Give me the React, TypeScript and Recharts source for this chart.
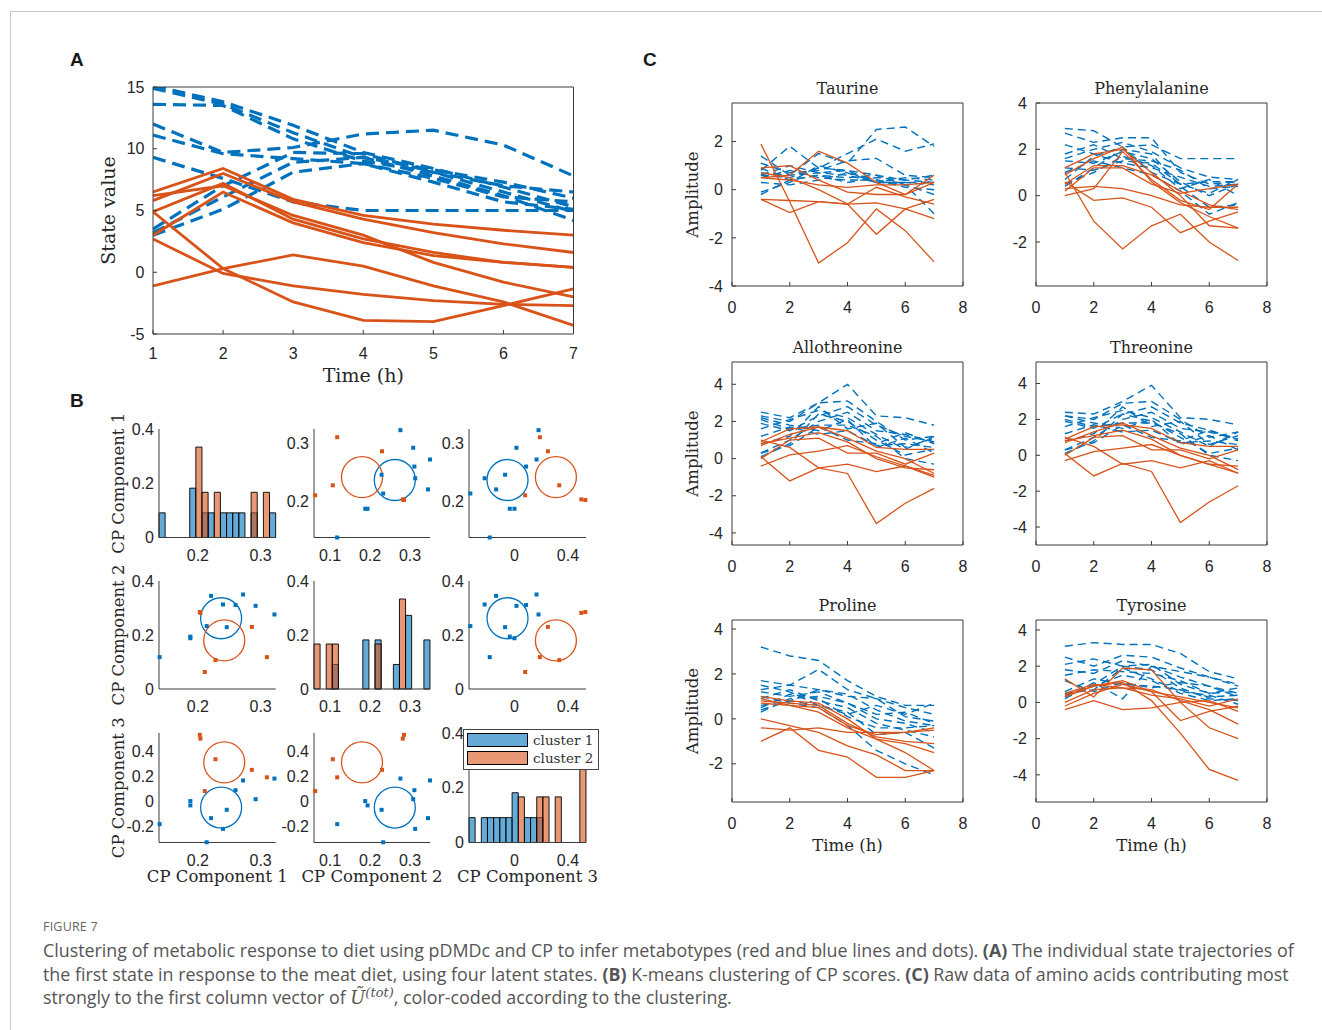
import React from 'react';
import { LineChart, Line, XAxis, YAxis, ScatterChart, Scatter, BarChart, Bar, Legend } from 'recharts';

const BLUE = '#0072BD';
const ORANGE = '#D95319';
const INK = '#262626';
const AXIS = '#3a3a3a';
const SANS = '"Liberation Sans", Arial, sans-serif';
const SERIF = '"DejaVu Serif", "Liberation Serif", serif';

const hours = [1, 2, 3, 4, 5, 6, 7];

// A: first latent state, meat diet
const stateCluster1 = [
  [15.1, 13.8, 11.9, 9.7, 8.4, 6.9, 5.3],
  [14.9, 13.6, 11.3, 9.3, 7.8, 6.2, 4.2],
  [13.6, 13.5, 10.8, 9.0, 8.1, 6.5, 4.9],
  [12.0, 9.7, 10.1, 11.2, 11.5, 10.3, 7.8],
  [11.1, 9.6, 9.2, 8.8, 7.3, 5.7, 5.1],
  [9.3, 7.6, 5.7, 5.0, 5.0, 5.0, 5.0],
  [3.5, 7.0, 9.7, 9.6, 8.1, 7.0, 6.5],
  [3.0, 5.1, 8.1, 8.8, 7.6, 6.1, 5.7],
  [3.2, 6.1, 8.9, 9.3, 8.3, 7.3, 6.0],
];
const stateCluster2 = [
  [6.5, 8.4, 5.9, 4.6, 3.9, 3.4, 3.0],
  [5.8, 8.0, 5.7, 4.3, 3.2, 2.3, 1.6],
  [4.9, 7.2, 4.3, 2.7, 1.6, 0.8, 0.4],
  [3.0, 6.5, 4.0, 2.4, 1.35, 0.8, 0.4],
  [2.7, -0.1, -1.1, -1.8, -2.3, -2.6, -2.7],
  [-1.1, 0.3, 1.4, 0.5, -1.1, -2.4, -4.3],
  [4.9, 0.3, -2.4, -3.9, -4.0, -2.7, -1.35],
  [6.2, 7.0, 4.6, 3.0, 0.8, -0.8, -2.0],
];

// B: CP scores of the subjects, per cluster and component
const cpBlue1 = [0.139, 0.188, 0.188, 0.221, 0.24, 0.26, 0.272, 0.292, 0.322, 0.214, 0.246];
const cpBlue2 = [0.118, 0.194, 0.188, 0.345, 0.313, 0.311, 0.35, 0.308, 0.276, 0.233, 0.229];
const cpBlue3 = [-0.185, -0.035, 0.0, -0.137, -0.223, 0.087, 0.165, 0.015, 0.18, -0.33, -0.07];
const cpOrange1 = [0.203, 0.204, 0.228, 0.286, 0.31, 0.211];
const cpOrange2 = [0.285, 0.282, 0.107, 0.23, 0.118, 0.063];
const cpOrange3 = [0.53, 0.5, 0.335, 0.25, 0.19, 0.08];
const centroidBlue = [0.237, 0.262, -0.052];
const centroidOrange = [0.242, 0.18, 0.31];
// histogram counts, 19 bins over each axis range
const histBlue = [
  [1, 0, 0, 0, 0, 2, 0, 1, 1, 0, 1, 1, 1, 1, 0, 1, 0, 0, 1],
  [0, 0, 0, 1, 0, 0, 0, 0, 2, 0, 2, 0, 0, 1, 0, 3, 0, 0, 2],
  [1, 0, 1, 1, 1, 1, 1, 2, 0, 1, 1, 1, 0, 0, 0, 0, 0, 0, 0],
];
const histOrange = [
  [0, 0, 0, 0, 0, 0, 2, 1, 0, 1, 0, 0, 0, 0, 0, 1, 0, 1, 0],
  [1, 0, 1, 1, 0, 0, 0, 0, 0, 0, 1, 0, 0, 0, 2, 0, 0, 0, 0],
  [0, 0, 0, 0, 0, 0, 0, 0, 1, 0, 0, 1, 1, 0, 1, 0, 0, 0, 2],
];
const clusterNames = ['cluster 1', 'cluster 2'];
const compNames = ['CP Component 1', 'CP Component 2', 'CP Component 3'];
const colDomains: [number, number][] = [[0.138, 0.324], [0.06, 0.35], [-0.34, 0.535]];
const colTicks = [[0.2, 0.3], [0.1, 0.2, 0.3], [0, 0.4]];
const rowDomains: [number, number][] = [[0.139, 0.324], [0, 0.4], [-0.332, 0.545]];
const rowTicks = [[0.2, 0.3], [0, 0.2, 0.4], [-0.2, 0, 0.2, 0.4]];

// C: raw amino acid data
const taurineBlue = [
  [1.4, 0.6, 1.5, 1.1, 2.5, 2.6, 1.8],
  [0.8, 1.8, 0.9, 1.5, 2.1, 1.6, 1.9],
  [1.1, 0.7, 0.8, 1.2, 1.3, 0.6, 0.5],
  [0.6, 0.5, 0.9, 0.8, 0.6, 0.4, 0.3],
  [0.7, 0.6, 0.7, 0.6, 0.3, 0.3, 0.2],
  [0.5, 0.8, 0.5, 0.4, 0.4, 0.2, -0.2],
  [-0.1, 0.3, 1.0, 0.7, 0.3, 0.3, 0.3],
  [0.9, 0.4, 0.6, 0.5, 0.6, 0.2, -1.0],
  [0.6, 1.0, 0.7, 0.8, 0.3, 0.5, 0.4],
  [0.3, 0.2, 0.4, 0.7, 0.4, 0.1, 0.0],
  [-0.2, 0.4, 0.6, 0.3, 0.5, 0.4, 0.6],
];
const taurineOrange = [
  [1.9, -0.5, -3.05, -2.2, -0.8, -1.7, -3.0],
  [-0.4, -0.95, -0.5, -0.6, -1.85, -0.8, -0.4],
  [0.5, 0.6, 1.6, 1.1, 0.3, -0.2, 0.3],
  [0.9, 1.0, 0.4, -0.1, -0.2, -0.2, 0.6],
  [0.5, 0.4, 0.2, 0.1, 0.2, 0.2, 0.3],
  [-0.4, -0.45, -0.5, -0.6, -0.55, -0.8, -1.2],
  [0.7, 0.5, 0.0, -0.6, 0.1, -0.3, -0.6],
];
const phenylalanineBlue = [
  [2.9, 2.8, 2.1, 2.2, 1.6, 1.6, 1.6],
  [2.7, 2.3, 2.5, 2.5, 1.0, 0.5, 0.6],
  [1.6, 2.0, 2.3, 1.9, 1.2, 0.8, 0.7],
  [1.5, 1.4, 1.9, 1.6, 0.6, 0.0, 0.5],
  [1.2, 1.1, 1.5, 1.4, 0.5, 0.6, 0.6],
  [0.5, 1.0, 1.7, 1.3, 0.3, 0.7, 0.0],
  [0.4, 1.2, 2.0, 1.8, 0.4, -0.5, -0.4],
  [2.2, 1.8, 1.4, 1.2, 0.8, 0.4, 0.5],
  [1.0, 1.5, 1.2, 0.9, 0.2, -0.8, -0.3],
  [0.7, 1.7, 2.1, 1.0, 0.5, 0.1, 0.7],
  [1.8, 2.2, 1.6, 1.5, 1.1, 0.3, 0.4],
];
const phenylalanineOrange = [
  [1.0, -1.1, -2.3, -1.3, -0.8, -2.0, -2.8],
  [0.6, -0.2, -0.1, -0.5, -1.6, -1.1, -0.7],
  [0.3, 0.4, 0.3, 0.0, -0.4, -0.5, -0.5],
  [1.2, 1.8, 2.0, 1.0, 0.0, -1.3, -1.4],
  [0.9, 1.6, 2.1, 0.6, -0.3, -0.9, -1.4],
  [0.5, 1.3, 1.3, 0.9, 0.2, -0.4, -0.6],
  [0.0, 0.3, 1.9, 0.7, -0.2, -0.6, 0.5],
  [0.2, 1.2, 1.2, 0.5, 0.1, 0.3, 0.5],
];
const allothreonineBlue = [
  [2.5, 2.2, 3.0, 4.0, 2.3, 2.2, 1.8],
  [2.3, 2.0, 3.0, 3.1, 2.0, 1.0, 1.2],
  [1.9, 1.5, 2.3, 2.8, 1.8, 1.2, 0.9],
  [1.6, 2.1, 2.6, 2.2, 1.3, 0.5, 1.2],
  [0.3, 1.0, 2.0, 2.5, 1.5, 1.3, 0.9],
  [0.1, 0.8, 2.4, 2.0, 1.0, 0.2, 0.5],
  [0.3, 0.7, 1.7, 1.0, 0.8, 1.4, 0.8],
  [2.1, 1.6, 1.8, 1.8, 1.2, 0.0, -0.3],
  [1.2, 1.7, 1.3, 1.5, 0.7, 0.8, 0.6],
  [0.8, 1.2, 2.8, 1.6, 1.9, 0.6, 1.1],
  [2.2, 1.8, 1.5, 2.1, 0.6, 1.1, 0.3],
];
const allothreonineOrange = [
  [0.1, -1.2, -0.5, -0.8, -3.5, -2.4, -1.6],
  [-0.4, 0.2, 0.4, 0.7, 0.1, -0.4, -1.0],
  [0.9, 1.6, 1.7, 1.5, 0.6, 0.5, 0.5],
  [0.7, 1.3, 1.7, 1.1, 0.4, 0.0, -0.8],
  [1.0, 0.6, -0.5, -0.3, -0.7, -0.4, -0.9],
  [0.0, 1.0, 1.1, 0.3, 0.3, -0.3, 0.3],
  [0.8, 1.1, 1.4, 0.9, 0.0, -0.5, -0.6],
];
const threonineBlue = [
  [2.4, 2.3, 3.0, 3.9, 2.1, 2.0, 1.7],
  [2.2, 2.0, 2.9, 3.0, 2.0, 1.0, 1.3],
  [1.9, 1.5, 2.3, 2.7, 1.8, 1.4, 0.9],
  [1.6, 2.1, 2.5, 2.1, 1.3, 0.5, 1.3],
  [0.3, 1.0, 2.0, 2.4, 1.5, 1.3, 0.9],
  [0.1, 0.8, 2.3, 1.9, 1.0, 0.1, 0.4],
  [0.3, 0.7, 1.7, 1.0, 0.8, 1.4, 0.8],
  [2.0, 1.6, 1.8, 1.8, 1.2, 0.0, -0.3],
  [1.2, 1.7, 1.3, 1.4, 0.7, 0.8, 0.6],
  [0.8, 1.2, 2.7, 1.6, 1.9, 0.6, 1.1],
  [2.2, 1.8, 1.5, 2.0, 0.6, 1.1, 0.3],
];
const threonineOrange = [
  [0.1, -1.15, -0.45, -0.9, -3.75, -2.6, -1.7],
  [-0.3, 0.2, 0.4, 0.6, 0.0, -0.5, -1.0],
  [0.9, 1.6, 1.7, 1.5, 0.7, 0.5, 0.5],
  [0.7, 1.3, 1.8, 1.1, 0.4, 0.0, -0.8],
  [1.0, 0.5, -0.5, -0.3, -0.7, -0.3, -1.0],
  [0.0, 1.0, 1.1, 0.3, 0.3, -0.2, 0.3],
  [0.8, 1.1, 1.4, 0.9, 0.0, -0.5, -0.6],
];
const prolineBlue = [
  [3.2, 2.8, 2.6, 1.7, 1.0, 0.6, 0.6],
  [1.7, 1.5, 2.2, 1.3, 0.9, 0.1, -0.1],
  [1.3, 1.5, 1.3, 1.1, 0.4, -0.1, -0.3],
  [1.2, 1.0, 1.2, 0.7, 0.0, -0.2, -0.6],
  [0.4, 0.8, 1.3, 1.0, 0.9, 0.5, 0.2],
  [0.5, 1.1, 0.9, 0.1, -0.4, -0.4, -0.3],
  [1.0, 0.7, 0.5, -0.3, -1.4, -2.0, -2.5],
  [0.9, 1.3, 0.8, 0.5, -0.2, -0.5, -0.8],
  [0.3, 0.9, 1.0, 0.7, 0.2, 0.3, -0.2],
  [1.5, 1.2, 0.6, 0.3, -0.7, -0.6, -1.3],
  [0.6, 0.8, 0.6, 0.2, 0.6, 0.2, 0.7],
];
const prolineOrange = [
  [1.0, 0.8, 0.7, 0.0, -0.9, -1.5, -2.3],
  [0.8, 0.7, 0.6, -0.2, -0.8, -1.0, -1.1],
  [-1.0, -0.4, -1.4, -1.7, -2.6, -2.6, -2.3],
  [0.0, -0.3, -0.6, -1.2, -1.6, -2.3, -2.3],
  [-0.4, -0.5, -0.4, -0.6, -0.6, -0.6, -0.5],
  [0.9, 0.6, 0.3, -0.4, -0.9, -1.1, -1.5],
  [0.7, 0.6, 0.5, -0.3, -0.7, -0.6, -0.4],
];
const tyrosineBlue = [
  [3.1, 3.3, 3.2, 3.2, 2.7, 1.7, 1.3],
  [2.1, 2.4, 2.0, 2.1, 1.0, 0.5, 0.6],
  [1.8, 1.6, 2.3, 2.0, 1.4, 0.9, 0.3],
  [0.3, 1.0, 2.0, 1.8, 0.8, 0.2, 0.1],
  [0.5, 0.7, 1.9, 1.3, 0.6, 0.4, -0.1],
  [0.2, 1.1, 0.2, 2.0, 1.7, 1.4, 0.9],
  [1.5, 1.8, 1.7, 1.6, 1.2, 0.5, 0.8],
  [0.6, 1.3, 1.0, 0.9, 0.7, 0.3, 0.4],
  [2.5, 2.0, 2.6, 2.5, 1.9, 1.4, 1.0],
  [0.4, 0.9, 1.5, 1.2, 0.5, 0.1, 0.2],
  [1.2, 0.6, 1.1, 0.8, 1.1, 0.9, 0.5],
];
const tyrosineOrange = [
  [1.3, 0.3, 1.9, 1.8, 0.0, -1.4, -2.0],
  [0.4, 0.9, 1.1, 0.1, -1.7, -3.7, -4.3],
  [-0.2, 0.5, 1.0, 0.6, -1.0, -0.5, -0.2],
  [0.5, 1.0, 0.8, 0.7, 0.1, -0.4, -1.2],
  [-0.4, 0.1, -0.4, -0.3, 0.0, 0.1, -0.5],
  [0.0, 0.7, 0.8, 0.4, 0.2, -0.2, 0.2],
  [0.3, 0.9, 1.2, 0.6, 0.3, 0.0, -0.3],
];

type Frame = { x: number; y: number; w: number; h: number };
type Look = {
  blueWidth: number; orangeWidth: number; dash: string; tick: number; label: number;
  xGap: number; yGap: number; yLabelX: number; xLabelBase: number;
};

const lookA: Look = { blueWidth: 3.2, orangeWidth: 2.8, dash: '13 7', tick: 16, label: 19, xGap: 18, yGap: 12.5, yLabelX: 108, xLabelBase: 382 };
const lookC: Look = { blueWidth: 1.4, orangeWidth: 1.3, dash: '8 5', tick: 16, label: 16.5, xGap: 20, yGap: 13, yLabelX: 692, xLabelBase: 851 };

function toRows(blue: number[][], orange: number[][]) {
  return hours.map((t, i) => {
    const row: Record<string, number> = { t };
    blue.forEach((s, k) => { row['b' + k] = s[i]; });
    orange.forEach((s, k) => { row['o' + k] = s[i]; });
    return row;
  });
}

type TrajProps = {
  frame: Frame; look: Look; blue: number[][]; orange: number[][];
  xDomain: [number, number]; xTicks: number[]; yDomain: [number, number]; yTicks: number[];
  title?: string; xLabel?: string; yLabel?: string;
};

function TrajectoryPlot(p: TrajProps) {
  const L = 80, T = 40, R = 12, B = 60;
  const { frame, look } = p;
  const left = frame.x - L;
  const top = frame.y - T;
  const tickStyle = { fontSize: look.tick, fill: INK, fontFamily: SANS };
  const labelProps = { fontFamily: SERIF, fontSize: look.label, fill: INK, style: { textAnchor: 'middle' as const } };
  return (
    <div style={{ position: 'absolute', left, top }}>
      <LineChart width={L + frame.w + R} height={T + frame.h + B} data={toRows(p.blue, p.orange)}
        margin={{ top: T - 1, right: R - 1, bottom: 0, left: 0 }}>
        <XAxis dataKey="t" type="number" domain={p.xDomain} ticks={p.xTicks} interval={0} height={B}
          allowDataOverflow stroke={AXIS} tickSize={-4} tickMargin={look.xGap} tick={tickStyle}
          label={p.xLabel ? { value: p.xLabel, position: 'insideBottom', offset: frame.y + frame.h + B - look.xLabelBase, ...labelProps } : undefined} />
        <XAxis xAxisId="top" orientation="top" type="number" domain={p.xDomain} ticks={p.xTicks} interval={0}
          height={1} allowDataOverflow stroke={AXIS} tickSize={-4} tick={false}
          label={p.title ? { value: p.title, position: 'top', offset: 8.5, ...labelProps, fontSize: 16 } : undefined} />
        <YAxis type="number" domain={p.yDomain} ticks={p.yTicks} interval={0} width={L}
          allowDataOverflow stroke={AXIS} tickSize={-4} tickMargin={look.yGap} tick={tickStyle}
          label={p.yLabel ? { value: p.yLabel, angle: -90, position: 'insideLeft', offset: look.yLabelX - left, ...labelProps } : undefined} />
        <YAxis yAxisId="right" orientation="right" type="number" domain={p.yDomain} ticks={p.yTicks} interval={0}
          width={1} allowDataOverflow stroke={AXIS} tickSize={-4} tick={false} />
        {p.blue.map((_, k) => (
          <Line key={'b' + k} dataKey={'b' + k} stroke={BLUE} strokeWidth={look.blueWidth}
            strokeDasharray={look.dash} dot={false} activeDot={false} isAnimationActive={false} />
        ))}
        {p.orange.map((_, k) => (
          <Line key={'o' + k} dataKey={'o' + k} stroke={ORANGE} strokeWidth={look.orangeWidth}
            dot={false} activeDot={false} isAnimationActive={false} />
        ))}
      </LineChart>
    </div>
  );
}

// B layout
const bCols = [{ x: 158.7, w: 116.7 }, { x: 314, w: 116 }, { x: 469, w: 117 }];
const bRows = [{ y: 428.5, h: 108.5 }, { y: 581, h: 108 }, { y: 733, h: 109.5 }];
const BL = 70, BT = 20, BR = 12, BB = 50;
const blueComps = [cpBlue1, cpBlue2, cpBlue3];
const orangeComps = [cpOrange1, cpOrange2, cpOrange3];
const pairs = (xs: number[], ys: number[]) => xs.map((x, i) => ({ x, y: ys[i] }));

const bTick = { fontSize: 16, fill: INK, fontFamily: SANS };
const bLabel = { fontFamily: SERIF, fontSize: 16.5, fill: INK, style: { textAnchor: 'middle' as const } };

function cellAxes(row: number, col: number, yDomain: [number, number], yTicks: number[], yKey?: string) {
  const left = bCols[col].x - BL;
  return [
    <XAxis key="x" dataKey="x" type="number" domain={colDomains[col]} ticks={colTicks[col]} interval={0}
      height={BB} stroke={AXIS} tickLine={false} tickSize={0} tickMargin={12} tick={bTick}
      label={row === 2 ? { value: compNames[col], position: 'insideBottom', offset: bRows[row].y + bRows[row].h + BB - 882, ...bLabel } : undefined} />,
    <YAxis key="y" dataKey={yKey} type="number" domain={yDomain} ticks={yTicks} interval={0}
      width={BL} stroke={AXIS} tickLine={false} tickSize={0} tickMargin={5} tick={bTick}
      label={col === 0 ? { value: compNames[row], angle: -90, position: 'insideLeft', offset: 118 - left, ...bLabel } : undefined} />,
  ];
}

function ScatterCell({ row, col }: { row: number; col: number }) {
  const c = bCols[col], r = bRows[row];
  const ring = (color: string) => (s: any) => (
    <circle cx={s.cx} cy={s.cy} r={20.5} fill="none" stroke={color} strokeWidth={1.3} />
  );
  const dotShape = (color: string) => (s: any) => (
    <rect x={s.cx - 2} y={s.cy - 2} width={4} height={4} fill={color} />
  );
  return (
    <div style={{ position: 'absolute', left: c.x - BL, top: r.y - BT }}>
      <ScatterChart width={BL + c.w + BR} height={BT + r.h + BB} margin={{ top: BT, right: BR, bottom: 0, left: 0 }}>
        {cellAxes(row, col, rowDomains[row], rowTicks[row], 'y')}
        <Scatter data={[{ x: centroidBlue[col], y: centroidBlue[row] }]} shape={ring(BLUE)} isAnimationActive={false} />
        <Scatter data={[{ x: centroidOrange[col], y: centroidOrange[row] }]} shape={ring(ORANGE)} isAnimationActive={false} />
        <Scatter data={pairs(blueComps[col], blueComps[row])} shape={dotShape(BLUE)} isAnimationActive={false} />
        <Scatter data={pairs(orangeComps[col], orangeComps[row])} shape={dotShape(ORANGE)} isAnimationActive={false} />
      </ScatterChart>
    </div>
  );
}

const swatch = ['rgba(0,114,189,0.6)', 'rgba(217,83,25,0.6)'];

function ClusterLegend() {
  return (
    <div style={{ border: '1.2px solid #444', background: '#fff', width: 128, padding: '1px 3px 2px 3px', whiteSpace: 'nowrap' }}>
      {clusterNames.map((n, i) => (
        <div key={n} style={{ display: 'flex', alignItems: 'center', height: 18 }}>
          <span style={{ display: 'inline-block', width: 59, height: 12, background: swatch[i], border: '1.2px solid #000', marginRight: 5 }} />
          <span style={{ fontFamily: SERIF, fontSize: 13.5, color: '#333' }}>{n}</span>
        </div>
      ))}
    </div>
  );
}

function HistCell({ idx }: { idx: number }) {
  const c = bCols[idx], r = bRows[idx];
  const dom = colDomains[idx];
  const bins = histBlue[idx].length;
  const wBin = (dom[1] - dom[0]) / bins;
  const data = histBlue[idx].map((b, k) => ({
    x: dom[0] + (k + 0.5) * wBin,
    b: b ? b / cpBlue1.length : null,
    o: histOrange[idx][k] ? histOrange[idx][k] / cpOrange1.length : null,
  }));
  // just under the band width, so recharts keeps it as given
  const barSize = c.w / bins - 0.02;
  return (
    <div style={{ position: 'absolute', left: c.x - BL, top: r.y - BT }}>
      <BarChart width={BL + c.w + BR} height={BT + r.h + BB} data={data} margin={{ top: BT, right: BR, bottom: 0, left: 0 }}
        barGap={0} barCategoryGap={0}>
        {cellAxes(idx, idx, [0, 0.4], [0, 0.2, 0.4])}
        <XAxis xAxisId="over" dataKey="x" type="number" domain={dom} hide />
        <Bar dataKey="b" name={clusterNames[0]} fill={BLUE} fillOpacity={0.6} stroke="#000" strokeWidth={0.9}
          barSize={barSize} isAnimationActive={false} />
        <Bar dataKey="o" xAxisId="over" name={clusterNames[1]} fill={ORANGE} fillOpacity={0.6} stroke="#000" strokeWidth={0.9}
          barSize={barSize} isAnimationActive={false} />
        {idx === 2 && (
          <Legend layout="vertical" align="center" verticalAlign="middle" content={<ClusterLegend />}
            wrapperStyle={{ left: 463 - (c.x - BL), top: 729 - (r.y - BT), width: 136 }} />
        )}
      </BarChart>
    </div>
  );
}

const cFrames: Frame[] = [
  { x: 732, y: 103, w: 231, h: 183 }, { x: 1036, y: 103, w: 231, h: 183 },
  { x: 732, y: 362, w: 231, h: 183 }, { x: 1036, y: 362, w: 231, h: 183 },
  { x: 732, y: 620, w: 231, h: 182 }, { x: 1036, y: 620, w: 231, h: 182 },
];
const aminoPanels = [
  { name: 'Taurine', blue: taurineBlue, orange: taurineOrange, dom: [-4, 3.6] as [number, number], ticks: [-4, -2, 0, 2] },
  { name: 'Phenylalanine', blue: phenylalanineBlue, orange: phenylalanineOrange, dom: [-3.9, 4] as [number, number], ticks: [-2, 0, 2, 4] },
  { name: 'Allothreonine', blue: allothreonineBlue, orange: allothreonineOrange, dom: [-4.65, 5.2] as [number, number], ticks: [-4, -2, 0, 2, 4] },
  { name: 'Threonine', blue: threonineBlue, orange: threonineOrange, dom: [-5, 5.2] as [number, number], ticks: [-4, -2, 0, 2, 4] },
  { name: 'Proline', blue: prolineBlue, orange: prolineOrange, dom: [-3.7, 4.4] as [number, number], ticks: [-2, 0, 2, 4] },
  { name: 'Tyrosine', blue: tyrosineBlue, orange: tyrosineOrange, dom: [-5.5, 4.55] as [number, number], ticks: [-4, -2, 0, 2, 4] },
];

const panelTag = (t: string, x: number, y: number) => (
  <div style={{ position: 'absolute', left: x, top: y, fontFamily: SANS, fontWeight: 700, fontSize: 19, color: '#1a1a1a' }}>{t}</div>
);

const captionLine = { fontSize: 17.85, lineHeight: '23.5px', height: 23.5 };

export default function App() {
  return (
    <div style={{ position: 'absolute', left: 0, top: 0, width: 1322, height: 1030, background: '#fff', overflow: 'hidden' }}>
      <div style={{ position: 'absolute', left: 10, top: 11, width: 1312, height: 1, background: '#c8c8c8' }} />
      <div style={{ position: 'absolute', left: 10, top: 11, width: 1, height: 1019, background: '#c8c8c8' }} />

      {panelTag('A', 70, 49)}
      {panelTag('B', 70, 390)}
      {panelTag('C', 643, 49)}

      <TrajectoryPlot frame={{ x: 152.5, y: 87, w: 420.5, h: 247 }} look={lookA}
        blue={stateCluster1} orange={stateCluster2}
        xDomain={[1, 7]} xTicks={hours} yDomain={[-5, 15]} yTicks={[-5, 0, 5, 10, 15]}
        xLabel="Time (h)" yLabel="State value" />

      {[0, 1, 2].map(row => [0, 1, 2].map(col =>
        row === col ? <HistCell key={`${row}${col}`} idx={row} /> : <ScatterCell key={`${row}${col}`} row={row} col={col} />
      ))}

      {aminoPanels.map((a, i) => (
        <TrajectoryPlot key={a.name} frame={cFrames[i]} look={lookC} blue={a.blue} orange={a.orange}
          xDomain={[0, 8]} xTicks={[0, 2, 4, 6, 8]} yDomain={a.dom} yTicks={a.ticks}
          title={a.name} yLabel={i % 2 === 0 ? 'Amplitude' : undefined} xLabel={i >= 4 ? 'Time (h)' : undefined} />
      ))}

      <div style={{ position: 'absolute', left: 43, top: 918, fontFamily: '"Open Sans", "Noto Sans", sans-serif', color: '#555', whiteSpace: 'nowrap' }}>
        <div style={{ fontSize: 12.5, letterSpacing: 0.2, color: '#666', height: 21 }}>FIGURE 7</div>
        <div style={captionLine}>
          Clustering of metabolic response to diet using pDMDc and CP to infer metabotypes (red and blue lines and dots). <b>(A)</b> The individual state trajectories of
        </div>
        <div style={captionLine}>
          the first state in response to the meat diet, using four latent states. <b>(B)</b> K-means clustering of CP scores. <b>(C)</b> Raw data of amino acids contributing most
        </div>
        <div style={captionLine}>
          strongly to the first column vector of <span style={{ fontFamily: SERIF, fontStyle: 'italic' }}>Ũ</span><sup style={{ fontFamily: SERIF, fontStyle: 'italic', fontSize: 13, lineHeight: 0 }}>(tot)</sup>, color-coded according to the clustering.
        </div>
      </div>
    </div>
  );
}
